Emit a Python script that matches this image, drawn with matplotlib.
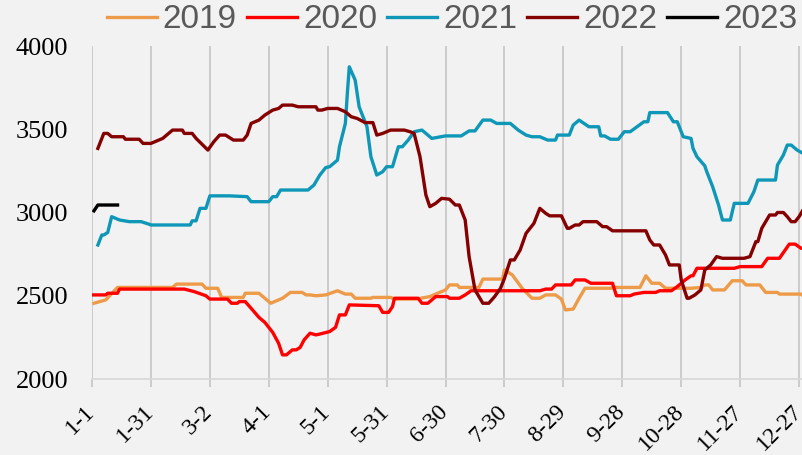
"""Seasonal price lines, 2019-2023, plotted by day of year."""

import matplotlib
matplotlib.use("Agg")
import matplotlib.pyplot as plt
from matplotlib.transforms import ScaledTranslation

# ---------- data -------------------------------------------------------------
TICK_DAYS = [0, 30, 60, 90, 120, 150, 180, 210, 240, 270, 300, 330, 360]
TICK_LABELS = ["1-1", "1-31", "3-2", "4-1", "5-1", "5-31", "6-30",
               "7-30", "8-29", "9-28", "10-28", "11-27", "12-27"]

days_2019 = [1, 7, 13, 41, 43, 56, 58, 64, 66, 77, 78, 85, 91, 97, 101, 107, 109,
             111, 114, 119, 125, 129, 132, 134, 142, 143, 152, 154, 165, 172, 180,
             182, 186, 187, 197, 199, 209, 210, 214, 219, 224, 228, 231, 236, 239,
             241, 245, 248, 251, 264, 266, 279, 282, 285, 289, 292, 305, 310, 312,
             314, 316, 322, 326, 331, 333, 340, 343, 349, 350, 361, 362]
vals_2019 = [2455, 2475, 2550, 2550, 2570, 2570, 2545, 2545, 2490, 2490, 2515, 2515,
             2455, 2485, 2520, 2520, 2505, 2505, 2500, 2505, 2530, 2510, 2510, 2485,
             2485, 2490, 2490, 2480, 2480, 2495, 2535, 2565, 2565, 2550, 2550, 2600,
             2600, 2655, 2625, 2545, 2485, 2485, 2505, 2505, 2480, 2415, 2420, 2485,
             2545, 2545, 2550, 2550, 2620, 2575, 2575, 2545, 2545, 2550, 2565, 2565,
             2535, 2535, 2590, 2590, 2565, 2565, 2520, 2520, 2510, 2510, 2500]

days_2020 = [0, 7, 8, 13, 14, 47, 52, 58, 60, 69, 71, 74, 75, 78, 81, 85, 88, 92,
             95, 97, 99, 102, 104, 106, 108, 111, 114, 116, 121, 124, 126, 129, 131,
             146, 148, 151, 153, 154, 166, 168, 171, 173, 175, 181, 182, 187, 190,
             193, 228, 231, 234, 236, 244, 246, 251, 254, 265, 267, 274, 276, 281,
             287, 289, 295, 298, 302, 305, 306, 308, 327, 330, 341, 344, 350, 355,
             358, 361, 362]
vals_2020 = [2505, 2505, 2515, 2515, 2540, 2540, 2525, 2500, 2480, 2480, 2455, 2455,
             2465, 2465, 2425, 2370, 2340, 2280, 2215, 2145, 2145, 2175, 2175, 2190,
             2235, 2275, 2265, 2270, 2285, 2310, 2385, 2385, 2445, 2440, 2400, 2400,
             2435, 2485, 2485, 2455, 2455, 2475, 2495, 2495, 2485, 2485, 2505, 2530,
             2530, 2540, 2540, 2565, 2565, 2595, 2595, 2575, 2575, 2500, 2500, 2510,
             2520, 2520, 2530, 2530, 2555, 2595, 2620, 2620, 2665, 2665, 2675, 2675,
             2725, 2725, 2810, 2810, 2785, 2785]

days_2021 = [3, 5, 6, 8, 10, 14, 19, 25, 29, 30, 50, 51, 53, 55, 58, 60, 70, 79, 81,
             90, 92, 94, 96, 110, 113, 116, 119, 121, 125, 126, 129, 130, 131, 134,
             136, 140, 142, 145, 148, 150, 153, 156, 158, 161, 164, 168, 173, 180,
             188, 192, 195, 199, 203, 206, 213, 217, 221, 224, 228, 232, 236, 237,
             243, 245, 248, 253, 258, 259, 261, 264, 268, 271, 274, 281, 283, 284,
             293, 296, 298, 301, 305, 306, 308, 312, 313, 316, 319, 321, 325, 327,
             334, 337, 339, 348, 349, 352, 354, 356, 359, 362]
vals_2021 = [2805, 2865, 2865, 2880, 2975, 2955, 2945, 2945, 2930, 2925, 2925, 2950,
             2950, 3025, 3025, 3100, 3100, 3095, 3065, 3065, 3095, 3095, 3135, 3135,
             3165, 3225, 3270, 3275, 3315, 3395, 3535, 3715, 3875, 3795, 3635, 3515,
             3335, 3225, 3245, 3275, 3275, 3395, 3395, 3435, 3485, 3495, 3445, 3460,
             3460, 3490, 3490, 3555, 3555, 3535, 3535, 3495, 3465, 3455, 3455, 3435,
             3435, 3465, 3465, 3525, 3555, 3515, 3515, 3460, 3460, 3440, 3440, 3485,
             3485, 3545, 3545, 3600, 3600, 3545, 3545, 3455, 3445, 3385, 3335, 3280,
             3245, 3155, 3045, 2955, 2955, 3055, 3055, 3125, 3195, 3195, 3285, 3345,
             3405, 3405, 3375, 3355]

days_2022 = [3, 6, 8, 10, 16, 17, 24, 26, 30, 32, 36, 39, 41, 46, 47, 51, 53, 59, 62,
             65, 68, 72, 77, 79, 81, 85, 88, 92, 95, 97, 102, 105, 114, 115, 117,
             120, 125, 129, 132, 135, 139, 143, 145, 148, 152, 159, 162, 164, 167,
             170, 172, 175, 178, 182, 185, 187, 190, 192, 195, 199, 202, 205, 208,
             210, 213, 215, 218, 221, 225, 228, 231, 233, 239, 242, 243, 246, 248,
             250, 257, 260, 262, 265, 282, 284, 286, 289, 292, 294, 299, 300, 303,
             304, 307, 310, 312, 315, 318, 321, 332, 335, 338, 339, 341, 345, 348,
             349, 352, 354, 356, 358, 360, 362]
vals_2022 = [3385, 3475, 3475, 3455, 3455, 3440, 3440, 3415, 3415, 3425, 3445, 3475,
             3495, 3495, 3475, 3475, 3445, 3375, 3425, 3465, 3465, 3435, 3435, 3465,
             3535, 3555, 3585, 3615, 3625, 3645, 3645, 3635, 3635, 3615, 3615, 3625,
             3625, 3605, 3575, 3565, 3540, 3540, 3465, 3475, 3495, 3495, 3485, 3475,
             3335, 3105, 3035, 3055, 3085, 3080, 3045, 3045, 2955, 2735, 2535, 2455,
             2455, 2495, 2545, 2605, 2715, 2715, 2775, 2875, 2935, 3025, 2995, 2980,
             2980, 2905, 2905, 2925, 2925, 2945, 2945, 2915, 2915, 2890, 2890, 2835,
             2805, 2805, 2745, 2685, 2685, 2595, 2485, 2485, 2505, 2535, 2655, 2685,
             2735, 2725, 2725, 2735, 2825, 2825, 2905, 2985, 2985, 3000, 3000, 2975,
             2945, 2945, 2975, 3015]

days_2023 = [1, 3, 13]
vals_2023 = [3010, 3045, 3045]

SERIES = [
    ("2019", days_2019, vals_2019, "#ED9B48"),
    ("2020", days_2020, vals_2020, "#FF0000"),
    ("2021", days_2021, vals_2021, "#0F97B8"),
    ("2022", days_2022, vals_2022, "#850000"),
    ("2023", days_2023, vals_2023, "#000000"),
]

BG = "#F2F2F2"
GRID = "#C8C8C8"


def main() -> None:
    fig = plt.figure(figsize=(8.03, 4.55), dpi=100, facecolor=BG)
    ax = fig.add_axes([92 / 803, 76 / 455, 711 / 803, 333 / 455], facecolor=BG)

    for name, d, v, color in SERIES:
        ax.plot(d, v, color=color, lw=2.4, label=name, solid_joinstyle="round")

    ax.set_xlim(0, 362)
    ax.set_ylim(2000, 4000)
    ax.set_yticks([2000, 2500, 3000, 3500, 4000])
    ax.set_xticks(TICK_DAYS)
    ax.set_xticklabels(TICK_LABELS, rotation=45, ha="right",
                       rotation_mode="anchor")
    ax.xaxis.grid(True, color=GRID, lw=1.3)
    ax.set_axisbelow(True)

    for side in ("top", "right", "left"):
        ax.spines[side].set_visible(False)
    ax.spines["bottom"].set_color("#D9D9D9")
    ax.spines["bottom"].set_linewidth(1.3)

    ax.tick_params(axis="x", length=6, width=1.3, color=GRID, pad=10)
    ax.tick_params(axis="y", length=0, pad=17)
    shift = ScaledTranslation(-8 / 100, 0, fig.dpi_scale_trans)
    for lab in ax.get_xticklabels():
        lab.set_transform(lab.get_transform() + shift)
    for lab in ax.get_xticklabels() + ax.get_yticklabels():
        lab.set_fontfamily("Liberation Serif")
        lab.set_fontsize(17)
        lab.set_color("black")
    for lab in ax.get_yticklabels():
        lab.set_fontsize(19)

    fig.legend(loc="center", bbox_to_anchor=(452 / 803, 1 - 20 / 455), ncol=5,
               frameon=False, handlelength=1.5, handletextpad=0.18,
               columnspacing=0.3, borderpad=0.2,
               prop={"family": "Liberation Sans", "size": 24},
               labelcolor="#595959")

    fig.savefig("out.png", dpi=100, facecolor=BG)
    plt.close(fig)


if __name__ == "__main__":
    main()
